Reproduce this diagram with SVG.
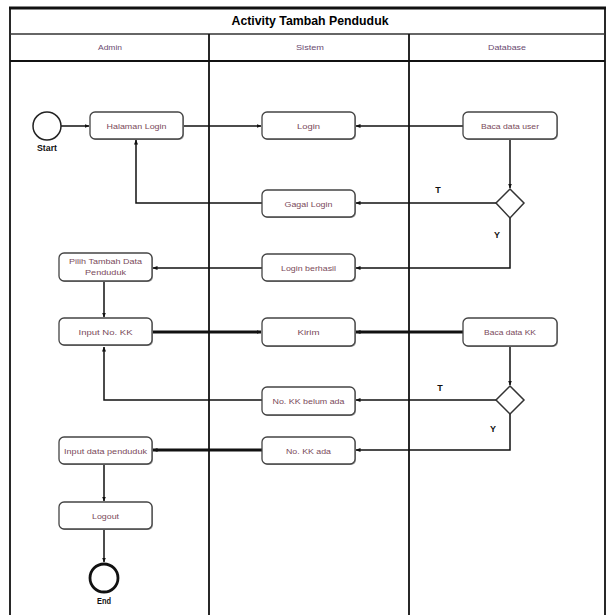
<svg xmlns="http://www.w3.org/2000/svg" width="609" height="615" viewBox="0 0 609 615">
<defs>
<marker id="ah" viewBox="0 0 10 10" refX="9" refY="5" markerWidth="5" markerHeight="5" markerUnits="userSpaceOnUse" orient="auto">
<path d="M0,1 L10,5 L0,9 z" fill="#111"/>
</marker>
<style>
.lane{stroke:#111;stroke-width:1.8;fill:none}
.box{fill:#fff;stroke:#444;stroke-width:1.3}
.shd{fill:#999}
.t{font-family:"Liberation Sans",Arial,sans-serif;font-size:8px;fill:#7a4a5a;text-anchor:middle}
.h{font-family:"Liberation Sans",Arial,sans-serif;font-size:8px;fill:#6a4a70;text-anchor:middle}
.b{font-family:"Liberation Sans",Arial,sans-serif;font-weight:bold;font-size:9px;fill:#111;text-anchor:middle}
.c{fill:none;stroke:#111;stroke-width:1.5;marker-end:url(#ah)}
.ck{fill:none;stroke:#111;stroke-width:3;marker-end:url(#ah)}
</style>
</defs>
<rect width="609" height="615" fill="#fff"/>
<g id="frame">
<line x1="9" y1="8" x2="606" y2="8" stroke="#111" stroke-width="3"/>
<line x1="10" y1="8" x2="10" y2="615" class="lane"/>
<line x1="605" y1="8" x2="605" y2="615" class="lane"/>
<line x1="10" y1="34" x2="605" y2="34" stroke="#333" stroke-width="1.5"/>
<line x1="10" y1="61" x2="605" y2="61" class="lane"/>
<line x1="209" y1="34" x2="209" y2="615" class="lane"/>
<line x1="409" y1="34" x2="409" y2="615" class="lane"/>
<text x="310" y="25" font-family="'Liberation Sans',Arial,sans-serif" font-weight="bold" font-size="13" text-anchor="middle" fill="#000" textLength="157" lengthAdjust="spacingAndGlyphs">Activity Tambah Penduduk</text>
<text x="110" y="50" class="h" textLength="24" lengthAdjust="spacingAndGlyphs">Admin</text>
<text x="310" y="50" class="h" textLength="28" lengthAdjust="spacingAndGlyphs">Sistem</text>
<text x="507" y="50" class="h" textLength="38" lengthAdjust="spacingAndGlyphs">Database</text>
</g>
<g id="connectors">
<path class="c" d="M61,126 H89"/>
<path class="c" d="M183,126 H261"/>
<path class="c" d="M463,126 H356"/>
<path class="c" d="M510,140 V188"/>
<path class="c" d="M496,203 H356"/>
<path class="c" d="M262,203 H136 V140"/>
<path class="c" d="M510,218 V268 H356"/>
<path class="c" d="M262,268 H153"/>
<path class="c" d="M104,282 V317"/>
<path class="ck" d="M152,332 H261"/>
<path class="ck" d="M463,332 H356"/>
<path class="c" d="M510,346 V385"/>
<path class="c" d="M496,400 H356"/>
<path class="c" d="M262,400 H104 V347"/>
<path class="c" d="M510,414 V450 H356"/>
<path class="ck" d="M262,450 H153"/>
<path class="c" d="M104,464 V501"/>
<path class="c" d="M104,529 V562"/>
<text x="438" y="193" class="b">T</text>
<text x="497" y="238" class="b">Y</text>
<text x="440" y="391" class="b">T</text>
<text x="493" y="432" class="b">Y</text>
</g>
<g id="start">
<circle cx="47" cy="126" r="14" fill="#fff" stroke="#222" stroke-width="1.5"/>
<text x="47" y="151" class="b" textLength="20" lengthAdjust="spacingAndGlyphs">Start</text>
</g>
<g id="halaman-login">
<rect x="91" y="113" width="93" height="27" rx="5" class="shd"/>
<rect x="90" y="112" width="93" height="27" rx="5" class="box"/>
<text x="136.5" y="128.5" class="t" textLength="60" lengthAdjust="spacingAndGlyphs">Halaman Login</text>
</g>
<g id="login">
<rect x="263" y="113" width="93" height="27" rx="5" class="shd"/>
<rect x="262" y="112" width="93" height="27" rx="5" class="box"/>
<text x="308.5" y="128.5" class="t" textLength="23" lengthAdjust="spacingAndGlyphs">Login</text>
</g>
<g id="baca-data-user">
<rect x="464" y="113" width="94" height="27" rx="5" class="shd"/>
<rect x="463" y="112" width="94" height="27" rx="5" class="box"/>
<text x="510" y="128.5" class="t" textLength="58" lengthAdjust="spacingAndGlyphs">Baca data user</text>
</g>
<g id="decision-user">
<polygon points="510,189 524,203 510,218 496,203" fill="#fff" stroke="#333" stroke-width="1.5"/>
</g>
<g id="gagal-login">
<rect x="263" y="191" width="93" height="27" rx="5" class="shd"/>
<rect x="262" y="190" width="93" height="27" rx="5" class="box"/>
<text x="308.5" y="206.5" class="t" textLength="48" lengthAdjust="spacingAndGlyphs">Gagal Login</text>
</g>
<g id="login-berhasil">
<rect x="263" y="255" width="93" height="27" rx="5" class="shd"/>
<rect x="262" y="254" width="93" height="27" rx="5" class="box"/>
<text x="308.5" y="270.5" class="t" textLength="55" lengthAdjust="spacingAndGlyphs">Login berhasil</text>
</g>
<g id="pilih-tambah">
<rect x="60" y="254" width="93" height="28" rx="5" class="shd"/>
<rect x="59" y="253" width="93" height="28" rx="5" class="box"/>
<text x="105.5" y="264" class="t" textLength="73" lengthAdjust="spacingAndGlyphs">Pilih Tambah Data</text>
<text x="105.5" y="275" class="t" textLength="41" lengthAdjust="spacingAndGlyphs">Penduduk</text>
</g>
<g id="input-no-kk">
<rect x="60" y="319" width="93" height="27" rx="5" class="shd"/>
<rect x="59" y="318" width="93" height="27" rx="5" class="box"/>
<text x="105.5" y="334.5" class="t" textLength="54" lengthAdjust="spacingAndGlyphs">Input No. KK</text>
</g>
<g id="kirim">
<rect x="263" y="319" width="93" height="28" rx="5" class="shd"/>
<rect x="262" y="318" width="93" height="28" rx="5" class="box"/>
<text x="308.5" y="335" class="t" textLength="22" lengthAdjust="spacingAndGlyphs">Kirim</text>
</g>
<g id="baca-data-kk">
<rect x="464" y="319" width="94" height="28" rx="5" class="shd"/>
<rect x="463" y="318" width="94" height="28" rx="5" class="box"/>
<text x="510" y="335" class="t" textLength="52" lengthAdjust="spacingAndGlyphs">Baca data KK</text>
</g>
<g id="decision-kk">
<polygon points="510,386 524,400 510,414 496,400" fill="#fff" stroke="#333" stroke-width="1.5"/>
</g>
<g id="kk-belum-ada">
<rect x="263" y="388" width="93" height="28" rx="5" class="shd"/>
<rect x="262" y="387" width="93" height="28" rx="5" class="box"/>
<text x="308.5" y="404" class="t" textLength="72" lengthAdjust="spacingAndGlyphs">No. KK belum ada</text>
</g>
<g id="kk-ada">
<rect x="263" y="438" width="93" height="27" rx="5" class="shd"/>
<rect x="262" y="437" width="93" height="27" rx="5" class="box"/>
<text x="308.5" y="453.5" class="t" textLength="45" lengthAdjust="spacingAndGlyphs">No. KK ada</text>
</g>
<g id="input-data-penduduk">
<rect x="60" y="438" width="93" height="27" rx="5" class="shd"/>
<rect x="59" y="437" width="93" height="27" rx="5" class="box"/>
<text x="105.5" y="453.5" class="t" textLength="83" lengthAdjust="spacingAndGlyphs">Input data penduduk</text>
</g>
<g id="logout">
<rect x="60" y="503" width="93" height="27" rx="5" class="shd"/>
<rect x="59" y="502" width="93" height="27" rx="5" class="box"/>
<text x="105.5" y="518.5" class="t" textLength="27" lengthAdjust="spacingAndGlyphs">Logout</text>
</g>
<g id="end">
<circle cx="104" cy="578" r="14" fill="#fff" stroke="#111" stroke-width="2.8"/>
<text x="104" y="604" class="b" textLength="14" lengthAdjust="spacingAndGlyphs">End</text>
</g>
</svg>
